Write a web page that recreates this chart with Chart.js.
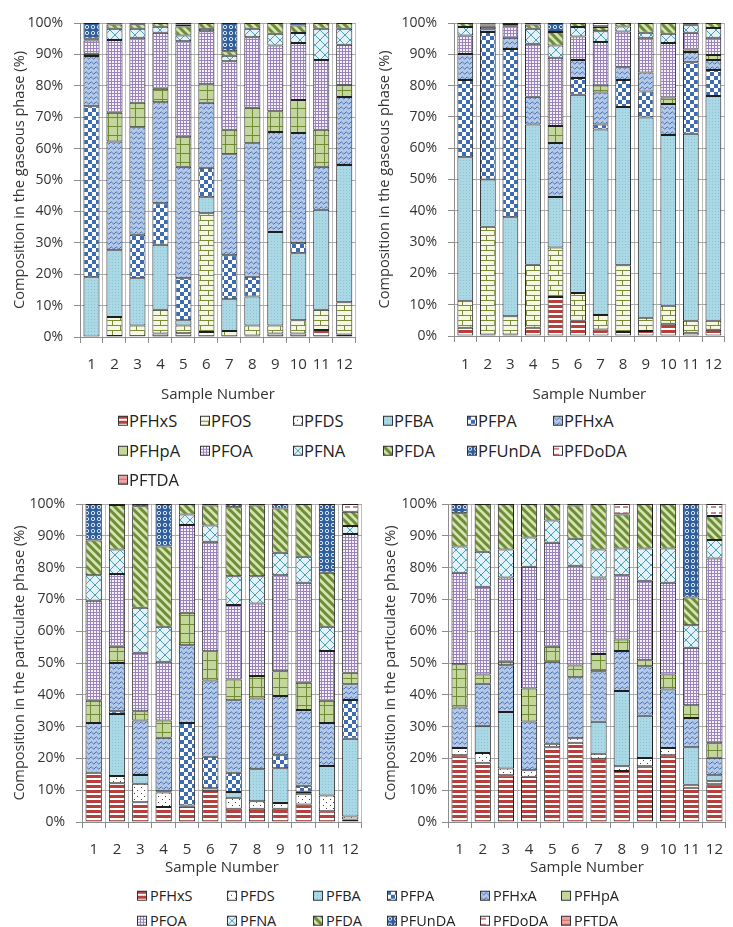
<!DOCTYPE html>
<html>
<head>
<meta charset="utf-8">
<script src="https://cdn.jsdelivr.net/npm/chart.js@4.4.1/dist/chart.umd.min.js"></script>
<style>
  html, body { margin: 0; padding: 0; background: #fff; overflow: hidden; }
  body { width: 733px; height: 927px; position: relative; }
  canvas.panel { position: absolute; }
  .lg { position: absolute; display: flex; align-items: center; transform: translateY(-50%);
        font-family: 'Open Sans', sans-serif; color: #222; white-space: nowrap; line-height: 1; }
  .lg canvas { display: block; }
</style>
</head>
<body>
<canvas id="gasA" class="panel" width="366" height="405" style="left:0;top:0"></canvas>
<canvas id="gasB" class="panel" width="370" height="405" style="left:366px;top:0"></canvas>
<canvas id="partC" class="panel" width="372" height="400" style="left:0;top:480px"></canvas>
<canvas id="partD" class="panel" width="370" height="400" style="left:366px;top:480px"></canvas>
<script>
// ---- categories and compounds ----
const samples = ['1', '2', '3', '4', '5', '6', '7', '8', '9', '10', '11', '12'];
const gasCompounds = ['PFHxS', 'PFOS', 'PFDS', 'PFBA', 'PFPA', 'PFHxA', 'PFHpA', 'PFOA', 'PFNA', 'PFDA', 'PFUnDA', 'PFDoDA', 'PFTDA'];
const partCompounds = ['PFHxS', 'PFDS', 'PFBA', 'PFPA', 'PFHxA', 'PFHpA', 'PFOA', 'PFNA', 'PFDA', 'PFUnDA', 'PFDoDA', 'PFTDA'];

// ---- gaseous phase, first site (% of total, samples 1-12) ----
const gasA_PFHxS  = [0, 0.3, 0.2, 1.1, 1.2, 1.6, 0, 0.5, 1.1, 1.1, 2.2, 0.8];
const gasA_PFOS   = [0, 6.1, 3.5, 7.6, 2.5, 37.8, 1.9, 3.2, 2.6, 4.2, 6.5, 10.3];
const gasA_PFDS   = [0, 0, 0, 0, 0, 0, 0, 0, 0, 0, 0, 0];
const gasA_PFBA   = [19, 21.2, 15, 20.7, 1.6, 5.1, 10.1, 9.2, 29.7, 21.4, 31.8, 43.7];
const gasA_PFPA   = [54.5, 0, 13.9, 13.2, 13.4, 9.4, 14, 6.3, 0, 3.3, 0, 0];
const gasA_PFHxA  = [16, 34.7, 34.2, 32.2, 35.5, 20.7, 32.2, 42.5, 31.9, 35, 13.7, 21.6];
const gasA_PFHpA  = [0.7, 9.1, 7.8, 4.3, 9.4, 5.9, 7.8, 11.3, 6.6, 10.5, 11.8, 3.8];
const gasA_PFOA   = [4.2, 23.2, 20.7, 17.8, 30.6, 16.9, 21.8, 22.5, 20.9, 18.1, 22.2, 12.9];
const gasA_PFNA   = [0.3, 3.6, 2.9, 1.9, 1.8, 0.8, 1.8, 2.7, 3.8, 3.2, 10, 5.1];
const gasA_PFDA   = [0.3, 1.3, 1.4, 1.2, 2.9, 1.8, 1.4, 1.8, 3.4, 2.4, 1.8, 1.8];
const gasA_PFUnDA = [5, 0.3, 0.2, 0, 0.6, 0, 9, 0, 0, 0.8, 0, 0];
const gasA_PFDoDA = [0, 0.2, 0.2, 0, 0.5, 0, 0, 0, 0, 0, 0, 0];
const gasA_PFTDA  = [0, 0, 0, 0, 0, 0, 0, 0, 0, 0, 0, 0];

// ---- gaseous phase, second site ----
const gasB_PFHxS  = [2.6, 0.5, 0.5, 2.6, 12.5, 4.9, 2.1, 1.3, 1.6, 3.9, 1, 2];
const gasB_PFOS   = [8.7, 34.4, 5.8, 20.2, 15.8, 8.8, 4.6, 21.3, 4.2, 5.8, 3.9, 2.9];
const gasB_PFDS   = [0, 0, 0, 0, 0, 0, 0, 0, 0, 0, 0, 0];
const gasB_PFBA   = [45.8, 15.1, 31.6, 44.8, 16.1, 63.4, 59.3, 50.6, 64, 54.5, 59.7, 71.8];
const gasB_PFPA   = [24.7, 47.1, 53.8, 0, 0, 5.3, 1.6, 8.6, 8.3, 0, 22.9, 8.3];
const gasB_PFHxA  = [8.3, 0.9, 3.6, 8.8, 17.3, 5.8, 10.2, 4.1, 6.1, 9.9, 3.2, 3.2];
const gasB_PFHpA  = [0, 0, 0, 0, 5.4, 0, 2.2, 0, 0, 2.1, 0.8, 1.6];
const gasB_PFOA   = [5.9, 0.8, 3.7, 17, 21.8, 7.5, 13.9, 11.4, 11.1, 17.4, 5.4, 5.5];
const gasB_PFNA   = [2.7, 0.4, 0.3, 4.8, 3.9, 3, 3.5, 1.6, 1.6, 3, 2.4, 3.1];
const gasB_PFDA   = [1.3, 0.3, 0.4, 1.3, 4.3, 1.3, 1.3, 1.1, 3.1, 3.4, 0.3, 1.6];
const gasB_PFUnDA = [0, 0.3, 0.3, 0.5, 2.9, 0, 0.3, 0, 0, 0, 0.4, 0];
const gasB_PFDoDA = [0, 0.2, 0, 0, 0, 0, 1.0, 0, 0, 0, 0, 0];
const gasB_PFTDA  = [0, 0, 0, 0, 0, 0, 0, 0, 0, 0, 0, 0];

// ---- particulate phase, first site ----
const partC_PFHxS  = [15.5, 12.2, 6.2, 4.7, 4.8, 9.8, 4.2, 4.2, 4.2, 5.5, 3.4, 0.8];
const partC_PFDS   = [0, 2.3, 5.8, 4.6, 0.2, 0.8, 3.4, 2.3, 1.8, 3.4, 4.9, 0.9];
const partC_PFBA   = [0, 19.5, 2.8, 0.4, 0.2, 0, 1.8, 10.1, 10.9, 0.6, 9.3, 24.5];
const partC_PFPA   = [0, 0.8, 0, 0, 25.9, 9.9, 6.1, 0, 4.1, 1.9, 0, 12.2];
const partC_PFHxA  = [15.6, 15.2, 17.1, 16.8, 24.5, 24, 22.8, 22.2, 18.6, 23.8, 13.5, 4.9];
const partC_PFHpA  = [7, 5.1, 2.9, 5.4, 10.2, 9.2, 6.5, 7.1, 7.8, 8.6, 7, 3.6];
const partC_PFOA   = [31.5, 22.9, 18.4, 18.5, 27.6, 34.4, 23.4, 22.8, 30.2, 31.4, 15.7, 43.7];
const partC_PFNA   = [8, 7.7, 14.2, 11, 3.3, 5.1, 9.1, 8.6, 7.1, 8.2, 7.6, 2.5];
const partC_PFDA   = [10.9, 14, 31.9, 25.2, 3.3, 6.3, 21.7, 22.2, 13.9, 16.6, 17, 4.5];
const partC_PFUnDA = [11.5, 0.3, 0.7, 13.4, 0, 0.5, 1, 0.5, 1.4, 0, 21.6, 0];
const partC_PFDoDA = [0, 0, 0, 0, 0, 0, 0, 0, 0, 0, 0, 2.4];
const partC_PFTDA  = [0, 0, 0, 0, 0, 0, 0, 0, 0, 0, 0, 0];

// ---- particulate phase, second site ----
const partD_PFHxS  = [21, 18.6, 14.7, 14.2, 23.5, 24.9, 19.9, 16, 17.5, 21, 10.8, 11.9];
const partD_PFDS   = [2.3, 3.1, 2.1, 2.1, 1.1, 1.4, 1.6, 1.5, 2.6, 2.3, 0.9, 0.9];
const partD_PFBA   = [0, 8.4, 17.8, 0, 0, 0, 10, 23.7, 13.3, 0, 11.8, 1.9];
const partD_PFPA   = [0, 0, 0, 0, 0, 0, 0, 0, 0, 0, 0, 0];
const partD_PFHxA  = [12.7, 13.4, 14.7, 15.3, 25.8, 19.2, 15.9, 12.6, 15.6, 18.4, 9.2, 5.5];
const partD_PFHpA  = [13.6, 2.9, 1.1, 10.4, 4.7, 3.7, 5.4, 3.6, 1.9, 4.7, 4, 4.6];
const partD_PFOA   = [28.8, 27.6, 26.5, 38.3, 32.7, 31.4, 24.1, 20.2, 25, 28.8, 18.1, 58.1];
const partD_PFNA   = [8.2, 11, 8.8, 9.2, 7, 8.5, 8.8, 8.4, 10.1, 10.8, 7.1, 5.8];
const partD_PFDA   = [10.5, 15, 14.3, 10.5, 5.2, 10.4, 14.3, 10.7, 14, 14, 8.7, 7.5];
const partD_PFUnDA = [2.9, 0, 0, 0, 0, 0.5, 0, 0.2, 0, 0, 29.4, 0];
const partD_PFDoDA = [0, 0, 0, 0, 0, 0, 0, 3.1, 0, 0, 0, 3.8];
const partD_PFTDA  = [0, 0, 0, 0, 0, 0, 0, 0, 0, 0, 0, 0];

const gasASeries = [gasA_PFHxS, gasA_PFOS, gasA_PFDS, gasA_PFBA, gasA_PFPA, gasA_PFHxA, gasA_PFHpA, gasA_PFOA, gasA_PFNA, gasA_PFDA, gasA_PFUnDA, gasA_PFDoDA, gasA_PFTDA];
const gasBSeries = [gasB_PFHxS, gasB_PFOS, gasB_PFDS, gasB_PFBA, gasB_PFPA, gasB_PFHxA, gasB_PFHpA, gasB_PFOA, gasB_PFNA, gasB_PFDA, gasB_PFUnDA, gasB_PFDoDA, gasB_PFTDA];
const partCSeries = [partC_PFHxS, partC_PFDS, partC_PFBA, partC_PFPA, partC_PFHxA, partC_PFHpA, partC_PFOA, partC_PFNA, partC_PFDA, partC_PFUnDA, partC_PFDoDA, partC_PFTDA];
const partDSeries = [partD_PFHxS, partD_PFDS, partD_PFBA, partD_PFPA, partD_PFHxA, partD_PFHpA, partD_PFOA, partD_PFNA, partD_PFDA, partD_PFUnDA, partD_PFDoDA, partD_PFTDA];

// ---- fill patterns: [tile width, tile height, painter] ----
const tiles = {
  PFHxS: [4, 5, g => { g.fillStyle = '#fff'; g.fillRect(0, 0, 4, 5); g.fillStyle = '#b73f3c'; g.fillRect(0, 0, 4, 3); }],
  PFOS: [16, 10, g => {
    g.fillStyle = '#f4f7e1'; g.fillRect(0, 0, 16, 10);
    g.strokeStyle = '#7c8c34'; g.lineWidth = 1; g.beginPath();
    g.moveTo(0, 0.5); g.lineTo(16, 0.5); g.moveTo(0, 5.5); g.lineTo(16, 5.5);
    g.moveTo(0.5, 0); g.lineTo(0.5, 5); g.moveTo(8.5, 5); g.lineTo(8.5, 10); g.stroke();
  }],
  PFDS: [7, 6, g => { g.fillStyle = '#fff'; g.fillRect(0, 0, 7, 6); g.fillStyle = '#444'; g.fillRect(1, 1, 1, 1); g.fillRect(4, 4, 1, 1); }],
  PFBA: [3, 3, g => { g.fillStyle = '#aad8e5'; g.fillRect(0, 0, 3, 3); g.fillStyle = '#8bc4d4'; g.fillRect(1, 1, 1, 1); }],
  PFPA: [8, 8, g => { g.fillStyle = '#fff'; g.fillRect(0, 0, 8, 8); g.fillStyle = '#3d6db0'; g.fillRect(0, 0, 4, 4); g.fillRect(4, 4, 4, 4); }],
  PFHxA: [5, 5, g => {
    g.fillStyle = '#b3c9e7'; g.fillRect(0, 0, 5, 5);
    g.strokeStyle = '#4471b4'; g.lineWidth = 1; g.beginPath();
    g.moveTo(0, 3); g.quadraticCurveTo(1.25, 0.6, 2.5, 3); g.quadraticCurveTo(3.75, 5.4, 5, 3); g.stroke();
  }],
  PFHpA: [9, 9, g => {
    g.fillStyle = '#c3d69b'; g.fillRect(0, 0, 9, 9);
    g.fillStyle = '#6f8a32'; g.fillRect(0, 0, 9, 1); g.fillRect(0, 0, 1, 9);
  }],
  PFOA: [3, 3, g => { g.fillStyle = '#f6f2fb'; g.fillRect(0, 0, 3, 3); g.fillStyle = '#9a82bf'; g.fillRect(0, 0, 3, 1); g.fillRect(0, 0, 1, 3); }],
  PFNA: [10, 10, g => {
    g.fillStyle = '#e2f2f6'; g.fillRect(0, 0, 10, 10);
    g.strokeStyle = '#4a9fb8'; g.lineWidth = 1; g.beginPath();
    g.moveTo(0, 0); g.lineTo(10, 10); g.moveTo(10, 0); g.lineTo(0, 10); g.stroke();
  }],
  PFDA: [8, 8, g => {
    g.fillStyle = '#d4e3b5'; g.fillRect(0, 0, 8, 8);
    g.strokeStyle = '#6e8c34'; g.lineWidth = 3; g.beginPath();
    [-8, 0, 8].forEach(c => { g.moveTo(-2, -2 + c); g.lineTo(10, 10 + c); }); g.stroke();
  }],
  PFUnDA: [6, 6, g => {
    g.fillStyle = '#2f5e9e'; g.fillRect(0, 0, 6, 6);
    g.strokeStyle = '#dbe7f5'; g.lineWidth = 1; g.beginPath(); g.arc(3, 3, 1.7, 0, Math.PI * 2); g.stroke();
  }],
  PFDoDA: [8, 6, g => {
    g.fillStyle = '#fff'; g.fillRect(0, 0, 8, 6);
    g.strokeStyle = '#c0504d'; g.lineWidth = 1.4; g.beginPath(); g.moveTo(1, 3); g.lineTo(6, 3); g.stroke();
  }],
  PFTDA: [4, 4, g => { g.fillStyle = '#e8a6a4'; g.fillRect(0, 0, 4, 4); g.fillStyle = '#d46c69'; g.fillRect(0, 0, 4, 1); }]
};

function patternFor(ctx, name) {
  const [w, h, paint] = tiles[name];
  const c = document.createElement('canvas');
  c.width = w; c.height = h;
  paint(c.getContext('2d'));
  return ctx.createPattern(c, 'repeat');
}

Chart.defaults.font.family = "'Open Sans', sans-serif";
Chart.defaults.color = '#333';

function drawPanel(id, names, series, yTitle, geo) {
  const ctx = document.getElementById(id).getContext('2d');
  const datasets = names.map((n, i) => ({
    label: n,
    data: series[i],
    backgroundColor: patternFor(ctx, n),
    borderColor: '#1e1e1e',
    borderWidth: 1,
    borderSkipped: false,
    barPercentage: 0.7,
    categoryPercentage: 1
  }));
  new Chart(ctx, {
    type: 'bar',
    data: { labels: samples, datasets },
    options: {
      responsive: false, animation: false, events: [], devicePixelRatio: 1,
      layout: { padding: geo.pad },
      plugins: { legend: { display: false }, tooltip: { enabled: false } },
      scales: {
        x: {
          stacked: true,
          grid: { color: '#bdbdbd', tickLength: 6, offset: true, tickColor: '#8c8c8c' },
          border: { color: '#8c8c8c' },
          ticks: { padding: geo.xTickPad, color: '#333', font: { size: 15 }, maxRotation: 0, autoSkip: false },
          title: { display: true, text: 'Sample Number', color: '#333', font: { size: 15 }, padding: { top: 0, bottom: geo.xTitlePad } },
          afterFit(s) { s.height = geo.xHeight; }
        },
        y: {
          stacked: true, min: 0, max: 100,
          grid: { color: '#a9a9a9', tickLength: 6, tickColor: '#8c8c8c' },
          border: { color: '#8c8c8c' },
          ticks: { stepSize: 10, padding: geo.yTickPad, color: '#333', font: { size: 14 }, callback: v => v + '%' },
          title: { display: true, text: yTitle, color: '#333', font: { size: 14.6 }, padding: { top: geo.yTitlePad, bottom: 0 } },
          afterFit(s) { s.width = geo.yWidth; }
        }
      }
    }
  });
}

drawPanel('gasA', gasCompounds, gasASeries, 'Composition in the gaseous phase (%)',
  { pad: { top: 23, right: 4, bottom: 0, left: 0 }, yWidth: 80, xHeight: 68, yTickPad: 11, xTickPad: 13, yTitlePad: 11.2, xTitlePad: 1 });
drawPanel('gasB', gasCompounds, gasBSeries, 'Composition in the gaseous phase (%)',
  { pad: { top: 23, right: 1, bottom: 0, left: 0 }, yWidth: 88, xHeight: 69, yTickPad: 11, xTickPad: 14, yTitlePad: 10.2, xTitlePad: 1 });
drawPanel('partC', partCompounds, partCSeries, 'Composition in the particulate phase (%)',
  { pad: { top: 24, right: 3, bottom: 0, left: 0 }, yWidth: 82, xHeight: 58, yTickPad: 11, xTickPad: 13, yTitlePad: 11.2, xTitlePad: 3 });
drawPanel('partD', partCompounds, partDSeries, 'Composition in the particulate phase (%)',
  { pad: { top: 24, right: 1, bottom: 0, left: 0 }, yWidth: 82, xHeight: 58, yTickPad: 5, xTickPad: 13, yTitlePad: 16.2, xTitlePad: 3 });

// ---- legends ----
function buildLegend(names, cols, rows, fontSize, box, gap) {
  names.forEach((n, i) => {
    const r = Math.floor(i / cols.length), c = i % cols.length;
    const item = document.createElement('div');
    item.className = 'lg';
    item.style.left = cols[c] + 'px';
    item.style.top = rows[r] + 'px';
    item.style.fontSize = fontSize + 'px';
    const sw = document.createElement('canvas');
    sw.width = box; sw.height = box;
    const g = sw.getContext('2d');
    g.fillStyle = patternFor(g, n);
    g.fillRect(0, 0, box, box);
    g.strokeStyle = '#333'; g.lineWidth = 1;
    g.strokeRect(0.5, 0.5, box - 1, box - 1);
    const label = document.createElement('span');
    label.textContent = n;
    label.style.marginLeft = gap + 'px';
    item.appendChild(sw);
    item.appendChild(label);
    document.body.appendChild(item);
  });
}
buildLegend(gasCompounds, [118, 200, 293, 383, 467, 553], [421, 451, 480], 16.5, 10, 1);
buildLegend(partCompounds, [137, 227, 313, 387, 480, 561], [896, 921], 14.5, 10, 3);
</script>
</body>
</html>
